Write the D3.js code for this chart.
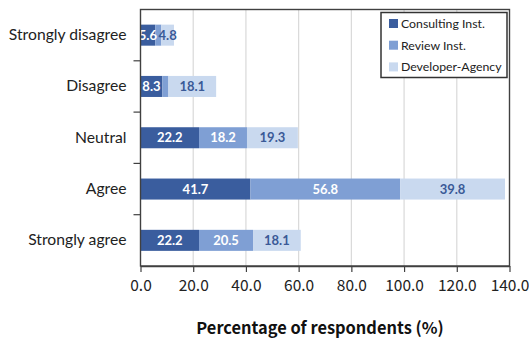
<!DOCTYPE html>
<html>
<head>
<meta charset="utf-8">
<script src="https://cdn.jsdelivr.net/npm/d3@7/dist/d3.min.js"></script>
<style>
  html, body { margin: 0; padding: 0; background: #fff; }
  svg { display: block; }
</style>
</head>
<body>
<svg id="chart" width="529" height="341"></svg>
<script>
// Survey responses by organisation type (% of respondents)
const categories = ["Strongly disagree", "Disagree", "Neutral", "Agree", "Strongly agree"];
const seriesNames = ["Consulting Inst.", "Review Inst.", "Developer-Agency"];
const consulting = [5.6, 8.3, 22.2, 41.7, 22.2];
const review = [2.3, 2.3, 18.2, 56.8, 20.5];
const developer = [4.8, 18.1, 19.3, 39.8, 18.1];
const xTicks = [0, 20, 40, 60, 80, 100, 120, 140];
const axisTitle = "Percentage of respondents (%)";

const colors = ["#3a5d9e", "#7f9fd4", "#c9d9ef"];
const labelColors = ["#ffffff", "#ffffff", "#3a5a97"];

const svg = d3.select("#chart");
const plotL = 140.5, plotR = 509.5, plotT = 9.5, plotB = 266;

const x = d3.scaleLinear().domain([0, 140]).range([plotL, plotR]);
const y = d3.scaleBand().domain(categories).range([plotT, plotB]).paddingInner(0.59).paddingOuter(0.295);

// vertical gridlines
svg.append("g")
  .selectAll("line")
  .data(xTicks.slice(1, -1))
  .join("line")
  .attr("x1", d => x(d)).attr("x2", d => x(d))
  .attr("y1", plotT).attr("y2", plotB)
  .attr("stroke", "#d9d9d9").attr("stroke-width", 1.2);

// stack the three series per category
const rows = categories.map((c, i) => ({ cat: c, v: [consulting[i], review[i], developer[i]] }));
const stackData = rows.map(r => {
  let acc = 0;
  return r.v.map((v, s) => { const seg = { cat: r.cat, s, v, x0: acc, x1: acc + v }; acc += v; return seg; });
}).flat();

svg.append("g")
  .selectAll("rect")
  .data(stackData)
  .join("rect")
  .attr("x", d => x(d.x0))
  .attr("y", d => y(d.cat))
  .attr("width", d => x(d.x1) - x(d.x0))
  .attr("height", y.bandwidth())
  .attr("fill", d => colors[d.s]);

// value labels on segments wide enough to hold them
svg.append("g")
  .selectAll("text")
  .data(stackData.filter(d => d.v >= 4))
  .join("text")
  .attr("x", d => (x(d.x0) + x(d.x1)) / 2)
  .attr("y", d => y(d.cat) + y.bandwidth() / 2)
  .attr("dy", "0.36em")
  .attr("text-anchor", "middle")
  .attr("font-family", "Lato, 'Open Sans', sans-serif")
  .attr("font-weight", "bold")
  .attr("font-size", "13px")
  .attr("fill", d => labelColors[d.s])
  .text(d => d.v.toFixed(1));

// x axis
const xAxis = d3.axisBottom(x).tickValues(xTicks).tickFormat(d3.format(".1f")).tickSize(6).tickSizeOuter(0);
const gx = svg.append("g").attr("transform", `translate(0,${plotB})`).call(xAxis);
gx.select(".domain").attr("stroke", "#404040").attr("stroke-width", 1.4);
gx.selectAll(".tick line").attr("stroke", "#404040").attr("stroke-width", 1.2);
gx.selectAll(".tick text")
  .attr("font-family", "'Noto Sans CJK KR', 'Noto Sans', sans-serif")
  .attr("font-size", "15.5px")
  .attr("fill", "#222")
  .attr("dy", "1.05em");

// y axis with ticks between categories
const gy = svg.append("g").attr("transform", `translate(${plotL},0)`)
  .call(d3.axisLeft(y).tickSize(0).tickPadding(14));
gy.select(".domain").remove();
gy.selectAll(".tick text")
  .attr("font-family", "Lato, 'Open Sans', sans-serif")
  .attr("font-size", "15.7px")
  .attr("fill", "#222");
const step = y.step();
svg.append("g")
  .selectAll("line")
  .data(categories.slice(1))
  .join("line")
  .attr("x1", plotL - 7).attr("x2", plotL)
  .attr("y1", d => y(d) - (step - y.bandwidth()) / 2)
  .attr("y2", d => y(d) - (step - y.bandwidth()) / 2)
  .attr("stroke", "#404040").attr("stroke-width", 1.2);

// plot frame
svg.append("rect")
  .attr("x", plotL).attr("y", plotT)
  .attr("width", plotR - plotL).attr("height", plotB - plotT)
  .attr("fill", "none").attr("stroke", "#404040").attr("stroke-width", 1.4);

// axis title
svg.append("text")
  .attr("x", (plotL + plotR) / 2 - 5)
  .attr("y", 334)
  .attr("text-anchor", "middle")
  .attr("font-family", "'Noto Sans CJK KR', 'Noto Sans', sans-serif")
  .attr("font-weight", "bold")
  .attr("font-size", "16.4px")
  .attr("fill", "#111")
  .text(axisTitle);

// legend
const lg = svg.append("g").attr("transform", "translate(381,12.5)");
lg.append("rect").attr("width", 126).attr("height", 65)
  .attr("fill", "#fff").attr("stroke", "#333").attr("stroke-width", 1.5);
const items = lg.selectAll("g.item").data(seriesNames).join("g")
  .attr("class", "item")
  .attr("transform", (d, i) => `translate(8,${11 + i * 21.7})`);
items.append("rect").attr("x", 0).attr("y", -4.5).attr("width", 9).attr("height", 9)
  .attr("fill", (d, i) => colors[i]);
items.append("text").attr("x", 12).attr("dy", "0.35em")
  .attr("font-family", "Lato, 'Open Sans', sans-serif")
  .attr("font-size", "12.3px")
  .attr("fill", "#222")
  .text(d => d);
</script>
</body>
</html>
